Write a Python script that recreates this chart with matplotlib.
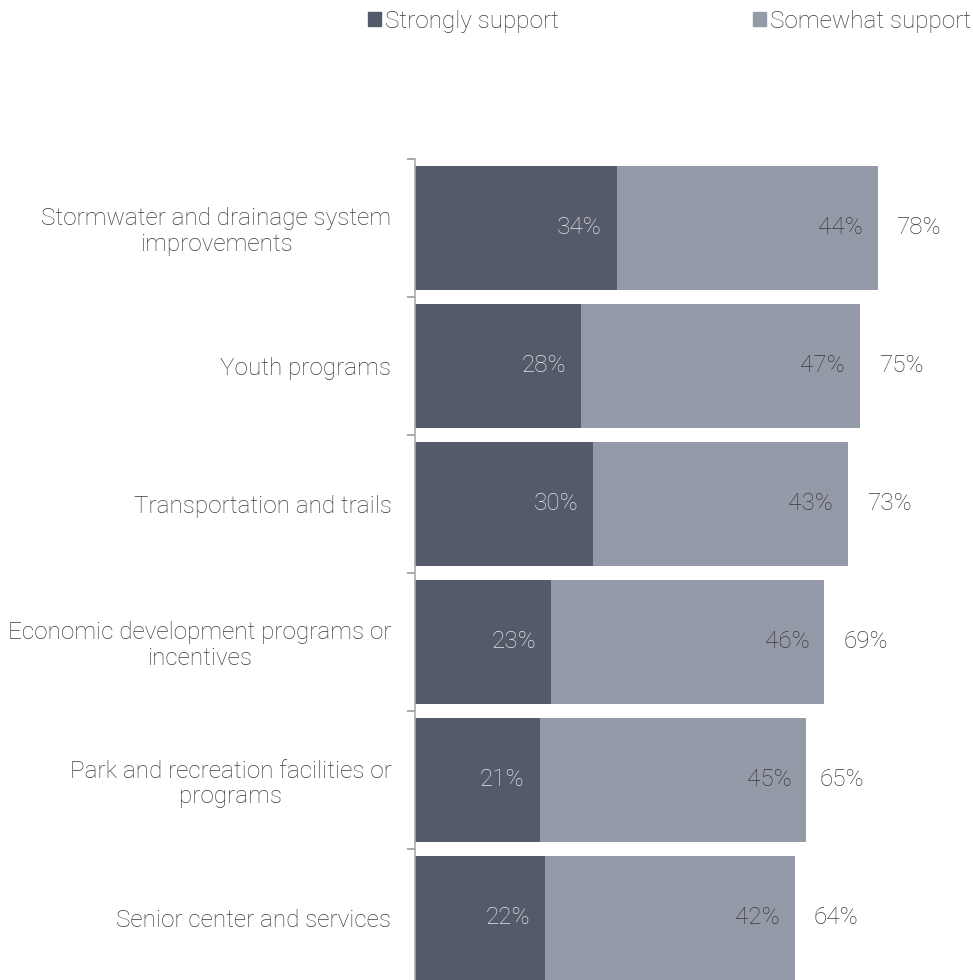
import numpy as np
import matplotlib
matplotlib.use('Agg')
import matplotlib.pyplot as plt
from matplotlib.patches import Patch

categories = ['Stormwater and drainage system\nimprovements',
              'Youth programs',
              'Transportation and trails',
              'Economic development programs or\nincentives',
              'Park and recreation facilities or\nprograms',
              'Senior center and services']
strongly = [34, 28, 30, 23, 21, 22]
somewhat = [44, 47, 43, 46, 45, 42]
totals = [78, 75, 73, 69, 65, 64]

dark = '#555a6a'
light = '#959aa8'
txt = '#3a3a3a'

plt.rcParams['font.family'] = ['Roboto', 'DejaVu Sans']
plt.rcParams['font.weight'] = 'light'

fig = plt.figure(figsize=(9.73, 9.8), dpi=100)
ax = fig.add_axes([415/973, -7/980, 558/973, 828/980])

y = np.arange(len(categories))
ax.barh(y, strongly, height=0.905, color=dark)
ax.barh(y, somewhat, left=strongly, height=0.905, color=light)

for i in range(len(categories)):
    ax.text(strongly[i] - 2.5, y[i], '%d%%' % strongly[i], ha='right', va='center',
            fontsize=17.5, color='#e6e6e6')
    ax.text(strongly[i] + somewhat[i] - 2.5, y[i], '%d%%' % somewhat[i], ha='right', va='center',
            fontsize=17.5, color=txt)
    ax.text(totals[i] + 3.2, y[i], '%d%%' % totals[i], ha='left', va='center',
            fontsize=17.5, color=txt)

ax.set_xlim(0, 94.1)
ax.set_ylim(len(categories) - 0.5, -0.5)
ax.set_xticks([])
ax.set_yticks(y)
ax.set_yticklabels(categories, fontsize=17.5, color=txt, multialignment='center', linespacing=1.12)
ax.tick_params(axis='y', which='major', length=0, pad=17)
ax.set_yticks(np.arange(-0.5, len(categories), 1.0), minor=True)
ax.tick_params(axis='y', which='minor', length=6, color='#999999', width=1.2)

for s in ['top', 'right', 'bottom']:
    ax.spines[s].set_visible(False)
ax.spines['left'].set_color('#aaaaaa')
ax.spines['left'].set_linewidth(1.2)

handles = [Patch(color=dark, label='Strongly support'), Patch(color=light, label='Somewhat support')]
fig.legend(handles=handles, loc='upper left', bbox_to_anchor=(358/973, 1.0), ncol=2,
           frameon=False, fontsize=17.5, handlelength=0.55, handleheight=0.55,
           handletextpad=0.15, columnspacing=8.0, labelcolor=txt,
           borderaxespad=0.0)

fig.savefig('out.png', dpi=100)
